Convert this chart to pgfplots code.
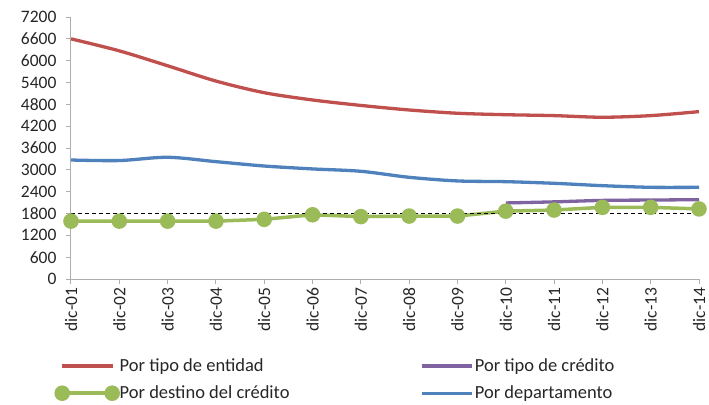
\documentclass[border=0pt]{standalone}
\usepackage{fontspec}
\setmainfont{Carlito}
\usepackage{pgfplots}
\pgfplotsset{compat=1.18}
\definecolor{cred}{HTML}{C0504D}
\definecolor{cblue}{HTML}{4F81BD}
\definecolor{cpurple}{HTML}{8064A2}
\definecolor{cgreen}{HTML}{9BBB59}
\definecolor{caxis}{HTML}{ADADAD}
\begin{document}
\begin{tikzpicture}
\begin{axis}[
  at={(0pt,0pt)}, anchor=south west,
  scale only axis, width=628pt, height=262pt,
  xmin=0, xmax=13, ymin=0, ymax=7200,
  axis x line*=bottom, axis y line*=left,
  axis line style={caxis, line width=1pt},
  tick style={caxis, line width=1pt},
  tick align=outside, major tick length=5pt,
  xtick={0,...,13},
  xticklabels={dic-01,dic-02,dic-03,dic-04,dic-05,dic-06,dic-07,dic-08,dic-09,dic-10,dic-11,dic-12,dic-13,dic-14},
  x tick label style={rotate=90, anchor=east, font=\fontsize{17.5}{20}\selectfont, color=black!85},
  ytick distance=600,
  y tick label style={font=\fontsize{17.5}{20}\selectfont, color=black!85, xshift=-6pt},
  /pgf/number format/assume math mode=true,
  yticklabel style={/pgf/number format/.cd, set thousands separator={}},
  legend columns=2,
  legend cell align=left,
  legend style={draw=none, fill=none, inner sep=0pt,
    at={(-15pt,-78pt)}, anchor=north west,
    font=\fontsize{18.5}{22}\selectfont, text=black!85,
    nodes={inner sep=1.5pt},
    /tikz/every even column/.append style={column sep=129pt},
    row sep=10pt},
  legend image code/.code={\draw[#1] plot coordinates {(0pt,0pt) (50pt,0pt)};},
  clip=false,
]
\addplot[cred, line width=3.3pt, smooth, tension=0.5] coordinates {
(0,6600) (1,6270) (2,5860) (3,5440) (4,5120) (5,4920) (6,4770) (7,4645) (8,4555) (9,4515) (10,4490) (11,4445) (12,4490) (13,4600)};
\addlegendentry{Por tipo de entidad}
\addplot[cpurple, line width=3.3pt, smooth, tension=0.5] coordinates {
(9,2090) (10,2120) (11,2160) (12,2170) (13,2180)};
\addlegendentry{Por tipo de crédito}
\addplot[cgreen, line width=3.5pt, mark=*, mark size=6pt] coordinates {
(0,1590) (1,1590) (2,1590) (3,1590) (4,1640) (5,1765) (6,1715) (7,1730) (8,1730) (9,1865) (10,1895) (11,1970) (12,1970) (13,1925)};
\addlegendentry{Por destino del crédito}
\addplot[cblue, line width=3.3pt, smooth, tension=0.5] coordinates {
(0,3270) (1,3255) (2,3345) (3,3225) (4,3105) (5,3025) (6,2960) (7,2795) (8,2695) (9,2675) (10,2630) (11,2565) (12,2520) (13,2520)};
\addlegendentry{Por departamento}
\addplot[black, line width=1.4pt, dash pattern=on 4pt off 3pt, forget plot] coordinates {(0,1800) (13,1800)};
\end{axis}
\path[use as bounding box] (-71pt,-125pt) rectangle (638pt,279pt);
\end{tikzpicture}
\end{document}
